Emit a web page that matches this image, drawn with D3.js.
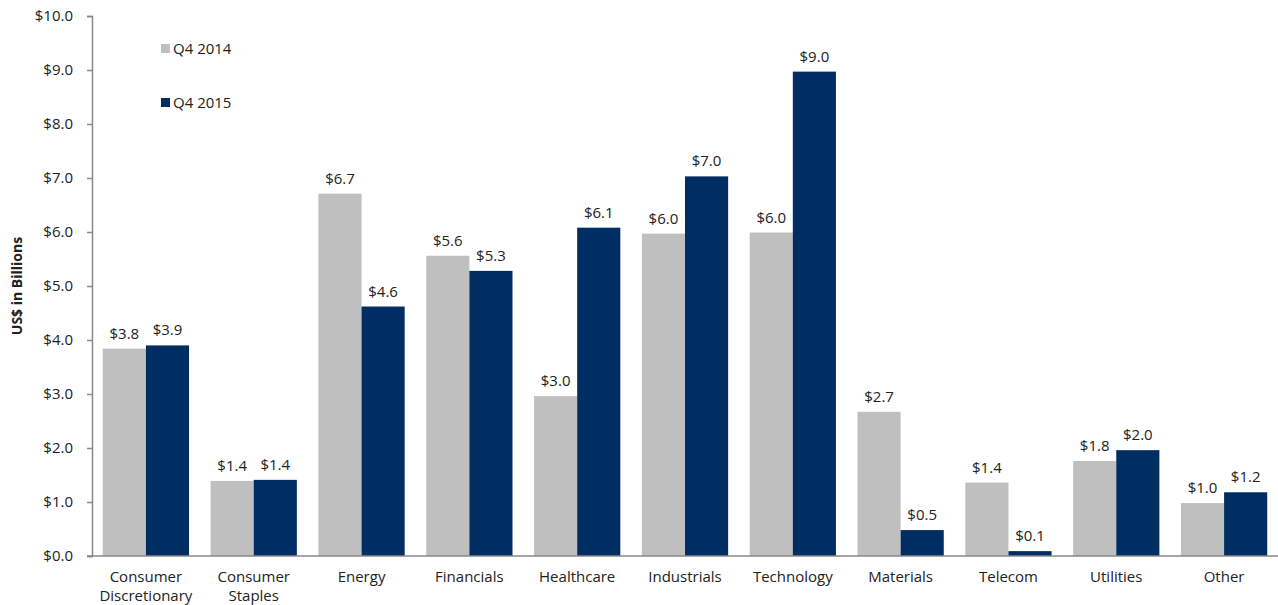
<!DOCTYPE html>
<html>
<head>
<meta charset="utf-8">
<script src="https://cdn.jsdelivr.net/npm/d3@7"></script>
<style>
  body { margin: 0; background: #fff; }
  text { font-family: "Open Sans", "Noto Sans", sans-serif; fill: #222; }
</style>
</head>
<body>
<script>
// sectors and values (US$ billions)
var categories = ['Consumer\nDiscretionary', 'Consumer\nStaples', 'Energy', 'Financials', 'Healthcare',
  'Industrials', 'Technology', 'Materials', 'Telecom', 'Utilities', 'Other'];
var seriesNames = ['Q4 2014', 'Q4 2015'];
var q42014 = [3.84, 1.39, 6.71, 5.56, 2.96, 5.97, 5.99, 2.67, 1.36, 1.76, 0.98];
var q42015 = [3.90, 1.41, 4.62, 5.28, 6.08, 7.03, 8.97, 0.48, 0.09, 1.96, 1.18];
var yTicks = [0, 1, 2, 3, 4, 5, 6, 7, 8, 9, 10];
var colors = ['#bfbfbf', '#002d62'];

var width = 1278, height = 605;
var margin = {top: 16, right: 0, bottom: 49, left: 92};

var svg = d3.select('body').append('svg')
  .attr('width', width)
  .attr('height', height);

var x = d3.scaleBand().domain(d3.range(categories.length))
  .range([margin.left, width - margin.right]).paddingInner(0.2).paddingOuter(0.1);
var x1 = d3.scaleBand().domain([0, 1]).range([0, x.bandwidth()]);
var y = d3.scaleLinear().domain([0, 10]).range([height - margin.bottom, margin.top]);

// y axis
var yAxis = svg.append('g')
  .attr('transform', 'translate(' + margin.left + ',0)')
  .call(d3.axisLeft(y).tickValues(yTicks).tickSize(5).tickPadding(14)
    .tickFormat(function(d) { return '$' + d.toFixed(1); }));
yAxis.select('.domain').attr('stroke', '#888').attr('stroke-width', 1.5);
yAxis.selectAll('.tick line').attr('stroke', '#888').attr('stroke-width', 1.5);
yAxis.selectAll('.tick text').style('font-size', '15px').attr('fill', '#222');

// bars
var series = [q42014, q42015];
series.forEach(function(vals, s) {
  svg.append('g').selectAll('rect').data(vals).enter().append('rect')
    .attr('x', function(d, i) { return x(i) + x1(s); })
    .attr('width', x1.bandwidth())
    .attr('y', function(d) { return y(d); })
    .attr('height', function(d) { return y(0) - y(d); })
    .attr('fill', colors[s]);

  svg.append('g').selectAll('text').data(vals).enter().append('text')
    .attr('x', function(d, i) { return x(i) + x1(s) + x1.bandwidth() / 2; })
    .attr('y', function(d) { return y(d) - 10; })
    .attr('text-anchor', 'middle')
    .style('font-size', '15px')
    .text(function(d) { return '$' + d.toFixed(1); });
});

// x axis line
svg.append('line')
  .attr('x1', margin.left - 5).attr('x2', width)
  .attr('y1', y(0)).attr('y2', y(0))
  .attr('stroke', '#888').attr('stroke-width', 1.5);

// category labels
var catLabels = svg.append('g').selectAll('text').data(categories).enter().append('text')
  .attr('text-anchor', 'middle')
  .style('font-size', '15px')
  .attr('x', function(d, i) { return x(i) + x.bandwidth() / 2; })
  .attr('y', y(0) + 26);
catLabels.selectAll('tspan').data(function(d) { return d.split('\n'); }).enter().append('tspan')
  .attr('x', function() { return this.parentNode.getAttribute('x'); })
  .attr('dy', function(d, i) { return i ? 19 : 0; })
  .text(function(d) { return d; });

// y title
svg.append('text')
  .attr('transform', 'translate(22,' + y(5) + ') rotate(-90)')
  .attr('text-anchor', 'middle')
  .style('font-size', '14px')
  .style('font-weight', 'bold')
  .attr('fill', '#000')
  .text('US$ in Billions');

// legend
var legend = svg.append('g').selectAll('g').data(seriesNames).enter().append('g')
  .attr('transform', function(d, i) { return 'translate(161,' + (44 + i * 54) + ')'; });
legend.append('rect').attr('width', 9).attr('height', 9)
  .attr('fill', function(d, i) { return colors[i]; });
legend.append('text').attr('x', 12).attr('y', 10)
  .style('font-size', '15px')
  .text(function(d) { return d; });
</script>
</body>
</html>
